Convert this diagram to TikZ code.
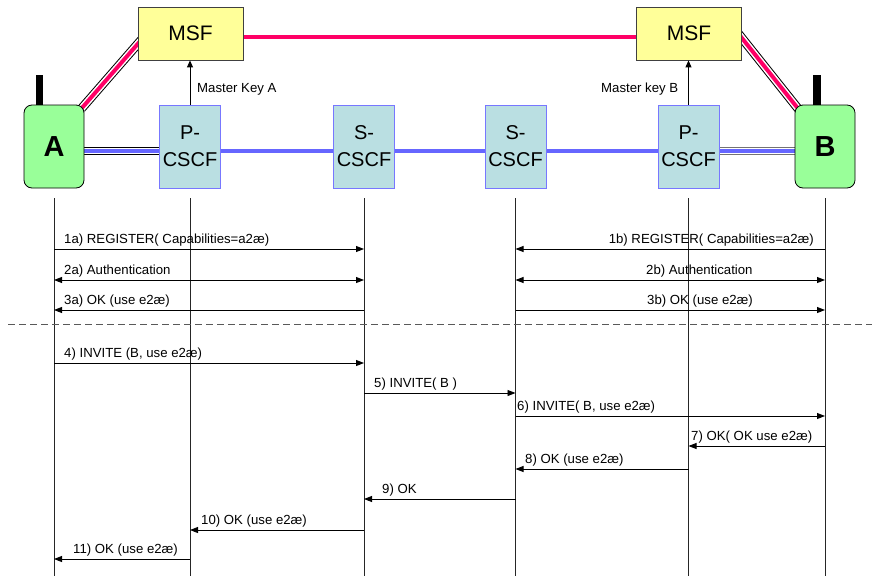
\documentclass[tikz,border=0pt]{standalone}
\usepackage{fontspec}
\setmainfont{Liberation Sans}
\usetikzlibrary{arrows.meta,calc,backgrounds}
\definecolor{uegreen}{HTML}{99FF99}
\definecolor{msfy}{HTML}{FFFF99}
\definecolor{msfb}{HTML}{404040}
\definecolor{cscf}{HTML}{BADFE2}
\definecolor{boxb}{HTML}{7777FF}
\definecolor{pinkc}{HTML}{FF0066}
\definecolor{bluel}{HTML}{6666FF}
\begin{document}
\begin{tikzpicture}[x=1pt,y=-1pt,
  cscfbox/.style={draw=boxb, fill=cscf, line width=0.9pt, minimum width=61pt, minimum height=83pt, inner sep=0pt, align=center, font=\fontsize{20}{27}\selectfont},
  uebox/.style={draw=black, fill=uegreen, rounded corners=8pt, line width=0.8pt, minimum width=60pt, minimum height=83pt, inner sep=0pt, font=\fontsize{29}{30}\selectfont\bfseries},
  msfbox/.style={draw=msfb, fill=msfy, line width=0.8pt, minimum width=105pt, minimum height=53pt, inner sep=0pt, font=\fontsize{21}{24}\selectfont},
  pinkline/.style={draw=pinkc, line width=4pt, preaction={draw=black, line width=9pt}, preaction={draw=white, line width=7pt}},
  bluecomp/.style={draw=bluel, line width=4pt, preaction={draw=#1, line width=8pt}, preaction={draw=white, line width=6pt}},
  blueplain/.style={draw=bluel, line width=4.3pt},
  pinkplain/.style={draw=pinkc, line width=4.3pt},
  keyarrow/.style={draw=black, line width=0.9pt, -{Triangle[length=7pt,width=6pt]}},
  life/.style={draw=black!85, line width=0.8pt},
  msg/.style={draw=black, line width=0.9pt, -{Triangle[length=8pt,width=6pt]}},
  dmsg/.style={draw=black, line width=0.9pt, {Triangle[length=8pt,width=6pt]}-{Triangle[length=8pt,width=6pt]}},
  lab/.style={inner sep=0pt, font=\fontsize{13.2}{15}\selectfont},
  dashline/.style={draw=black!65, line width=0.9pt, dash pattern=on 7pt off 4pt}
]
\useasboundingbox (0,0) rectangle (872,576);

% entities
\node[uebox] (A) at (54,146.5) {A};
\node[uebox] (B) at (825,146.5) {B};
\node[cscfbox] (PL) at (190,146.5) {P-\\CSCF};
\node[cscfbox] (SL) at (364,146.5) {S-\\CSCF};
\node[cscfbox] (SR) at (515.5,146.5) {S-\\CSCF};
\node[cscfbox] (PR) at (688.5,146.5) {P-\\CSCF};
\node[msfbox] (MSFL) at (190.5,33.5) {MSF};
\node[msfbox] (MSFR) at (689,33.5) {MSF};

% antennas
\fill[black] ($(A.north west)+(12,-30)$) rectangle ($(A.north west)+(19,0)$);
\fill[black] ($(B.north west)+(18,-30)$) rectangle ($(B.north west)+(26,0)$);

% links (behind boxes)
\begin{scope}[on background layer]
  \draw[pinkline] ($(A.north east)+(-3,4)$) -- ($(MSFL.west)+(4,6)$);
  \draw[pinkline] ($(MSFR.east)+(-4,-0.5)$) -- ($(B.north west)+(5,6)$);
  \draw[pinkplain] ($(MSFL.east)+(0,3.5)$) -- ($(MSFR.west)+(0,3.5)$);
  \draw[bluecomp=black] ($(A.east)+(0,4.5)$) -- ($(PL.west)+(0,4.5)$);
  \draw[bluecomp=black!55] ($(PR.east)+(0,4.5)$) -- ($(B.west)+(0,4.5)$);
  \draw[blueplain] ($(PL.east)+(0,4.5)$) -- ($(SL.west)+(0,4.5)$);
  \draw[blueplain] ($(SL.east)+(0,4.5)$) -- ($(SR.west)+(0,4.5)$);
  \draw[blueplain] ($(SR.east)+(0,4.5)$) -- ($(PR.west)+(0,4.5)$);
\end{scope}

% master keys
\draw[keyarrow] (PL.north) -- (PL.north |- MSFL.south);
\draw[keyarrow] (PR.north) -- (PR.north |- MSFR.south);
\node[lab, anchor=base west] (mka) at (197,92.5) {Master Key A};
\node[lab, anchor=base west] (mkb) at (601,92) {Master key B};

% lifelines
\foreach \n in {A,PL,SL,SR,PR,B}
  \draw[life] ($(\n.south)+(0,10)$) -- (\n.south |- 0,576);

% registration
\draw[msg]  (A |- 0,249) -- (SL |- 0,249);
\node[lab, anchor=base west] (l1a) at (64,243) {1a) REGISTER( Capabilities=a2æ)};
\draw[dmsg] (A |- 0,280) -- (SL |- 0,280);
\node[lab, anchor=base west] (l2a) at (64,274) {2a) Authentication};
\draw[msg]  (SL |- 0,310) -- (A |- 0,310);
\node[lab, anchor=base west] (l3a) at (64,304) {3a) OK (use e2æ)};

\draw[msg]  (B |- 0,249) -- (SR |- 0,249);
\node[lab, anchor=base east] (l1b) at (814,243) {1b) REGISTER( Capabilities=a2æ)};
\draw[dmsg] (SR |- 0,280) -- (B |- 0,280);
\node[lab, anchor=base west] (l2b) at (646,274) {2b) Authentication};
\draw[msg]  (SR |- 0,310) -- (B |- 0,310);
\node[lab, anchor=base west] (l3b) at (647,304) {3b) OK (use e2æ)};

\draw[dashline] (8,324) -- (872,324);

% call setup
\draw[msg] (A |- 0,363) -- (SL |- 0,363);
\node[lab, anchor=base west] (l4) at (64,357) {4) INVITE (B, use e2æ)};
\draw[msg] (SL |- 0,393) -- (SR |- 0,393);
\node[lab, anchor=base west] (l5) at (374,387) {5) INVITE( B )};
\draw[msg] (SR |- 0,416) -- (B |- 0,416);
\node[lab, anchor=base west] (l6) at (517,410) {6) INVITE( B, use e2æ)};
\draw[msg] (B |- 0,446) -- (PR |- 0,446);
\node[lab, anchor=base west] (l7) at (691,440) {7) OK( OK use e2æ)};
\draw[msg] (PR |- 0,469) -- (SR |- 0,469);
\node[lab, anchor=base west] (l8) at (525,463) {8) OK (use e2æ)};
\draw[msg] (SR |- 0,499) -- (SL |- 0,499);
\node[lab, anchor=base west] (l9) at (382,493) {9) OK};
\draw[msg] (SL |- 0,530) -- (PL |- 0,530);
\node[lab, anchor=base west] (l10) at (201,524) {10) OK (use e2æ)};
\draw[msg] (PL |- 0,559) -- (A |- 0,559);
\node[lab, anchor=base west] (l11) at (73,553) {11) OK (use e2æ)};
\end{tikzpicture}
\end{document}
